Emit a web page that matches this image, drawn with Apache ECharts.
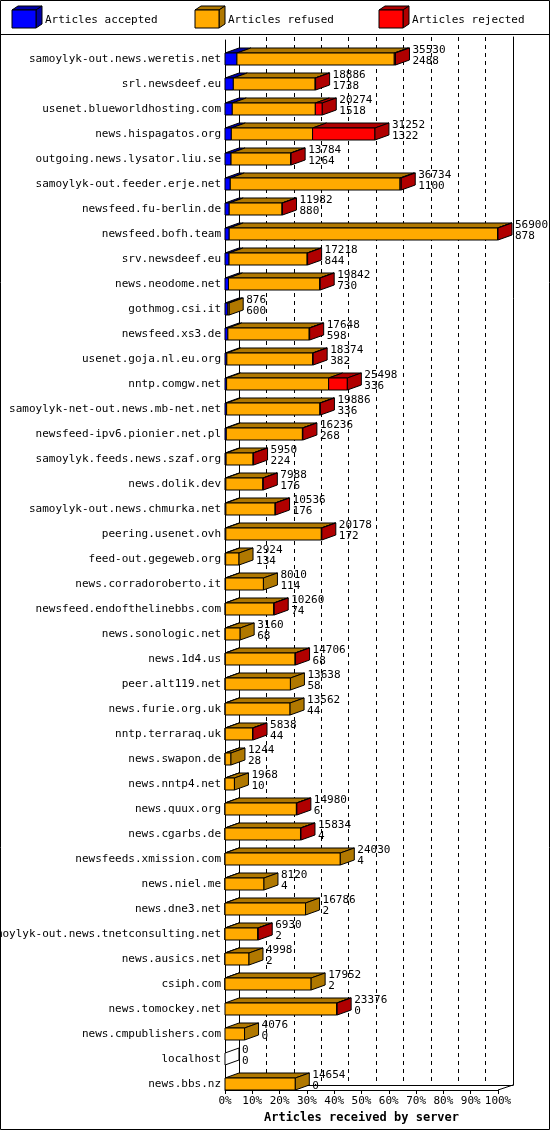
<!DOCTYPE html>
<html><head><meta charset="utf-8">
<script src="https://cdn.jsdelivr.net/npm/echarts@6/dist/echarts.min.js"></script>
<style>html,body{margin:0;padding:0;background:#fff}#c{width:550px;height:1130px}</style>
</head><body><div id="c"></div>
<script>
const categories = ["samoylyk-out.news.weretis.net","srl.newsdeef.eu","usenet.blueworldhosting.com","news.hispagatos.org","outgoing.news.lysator.liu.se","samoylyk-out.feeder.erje.net","newsfeed.fu-berlin.de","newsfeed.bofh.team","srv.newsdeef.eu","news.neodome.net","gothmog.csi.it","newsfeed.xs3.de","usenet.goja.nl.eu.org","nntp.comgw.net","samoylyk-net-out.news.mb-net.net","newsfeed-ipv6.pionier.net.pl","samoylyk.feeds.news.szaf.org","news.dolik.dev","samoylyk-out.news.chmurka.net","peering.usenet.ovh","feed-out.gegeweb.org","news.corradoroberto.it","newsfeed.endofthelinebbs.com","news.sonologic.net","news.1d4.us","peer.alt119.net","news.furie.org.uk","nntp.terraraq.uk","news.swapon.de","news.nntp4.net","news.quux.org","news.cgarbs.de","newsfeeds.xmission.com","news.niel.me","news.dne3.net","samoylyk-out.news.tnetconsulting.net","news.ausics.net","csiph.com","news.tomockey.net","news.cmpublishers.com","localhost","news.bbs.nz"];
const totals = [35530,18886,20274,31252,13784,36734,11982,56900,17218,19842,876,17648,18374,25498,19886,16236,5950,7988,10536,20178,2924,8010,10260,3160,14706,13638,13562,5838,1244,1968,14980,15834,24030,8120,16786,6930,4998,17952,23376,4076,0,14654];
const accepted = [2488,1738,1518,1322,1264,1100,880,878,844,730,600,598,382,336,336,268,224,176,176,172,134,114,74,68,68,58,44,44,28,10,6,4,4,4,2,2,2,2,0,0,0,0];
const rejected = [250,100,1450,13000,100,250,100,100,100,100,0,100,100,3900,100,100,100,100,100,100,0,0,100,0,100,0,0,100,0,0,100,100,0,0,0,100,0,0,100,0,0,0];
const xTicks = ["0%","10%","20%","30%","40%","50%","60%","70%","80%","90%","100%"];
const MAXV = 56900;

const DX = 14, DY = 5, H = 12;
const FONT = '11px "DejaVu Sans Mono", monospace';
const cols = [['#0000ff','#0000a8'],['#ffaa00','#b07800'],['#ff0000','#b00000']];

const data = categories.map((c,i)=>[i, accepted[i], totals[i]-accepted[i]-rejected[i], rejected[i], totals[i]]);

function renderItem(params, api){
  const i = api.value(0);
  const segs = [api.value(1), api.value(2), api.value(3)];
  const tot = api.value(4);
  const band = api.size([0,1])[1];
  const base = api.coord([0,i]);
  const yb = Math.round(base[1] + band/2), yt = yb - H;
  const children = [];
  const st = {stroke:'#000', lineWidth:1};
  let c = 0, lastCol = 1, xEnd = base[0];
  segs.forEach((v,k)=>{
    if (v <= 0) return;
    const x1 = api.coord([c,i])[0], x2 = api.coord([c+v,i])[0];
    c += v; lastCol = k; xEnd = x2;
    children.push({type:'polygon', shape:{points:[[x1,yt],[x1+DX,yt-DY],[x2+DX,yt-DY],[x2,yt]]}, style:Object.assign({fill:cols[k][1]},st)});
    children.push({type:'rect', shape:{x:x1,y:yt,width:x2-x1,height:H}, style:Object.assign({fill:cols[k][0]},st)});
  });
  let sideFill = tot === 0 ? '#fff' : (segs[2] > 0 ? cols[2][1] : cols[lastCol][1]);
  if (tot === 0) {
    children.push({type:'polygon', shape:{points:[[xEnd,yt],[xEnd+DX,yt-DY],[xEnd+DX,yb-DY],[xEnd,yb]]}, style:Object.assign({fill:'#fff'},st)});
  } else {
    children.push({type:'polygon', shape:{points:[[xEnd,yt],[xEnd+DX,yt-DY],[xEnd+DX,yb-DY],[xEnd,yb]]}, style:Object.assign({fill:sideFill},st)});
  }
  children.push({type:'text', style:{x:xEnd+DX+3, y:yt-8, text:tot+'\n'+api.value(1), font:FONT, fill:'#000', lineHeight:11, textVerticalAlign:'top'}});
  children.push({type:'text', style:{x:221, y:yt+6, text:categories[i], font:FONT, fill:'#000', textAlign:'right', textVerticalAlign:'middle'}});
  return {type:'group', children};
}

function legendBox(x, k, label){
  return [
    {type:'polygon', shape:{points:[[x,10],[x+6,6],[x+30,6],[x+24,10]]}, style:{fill:cols[k][1],stroke:'#000'}},
    {type:'polygon', shape:{points:[[x+24,10],[x+30,6],[x+30,24],[x+24,28]]}, style:{fill:cols[k][1],stroke:'#000'}},
    {type:'rect', shape:{x:x,y:10,width:24,height:18}, style:{fill:cols[k][0],stroke:'#000'}},
    {type:'text', style:{x:x+33, y:20, text:label, font:FONT, fill:'#000', textVerticalAlign:'middle'}}
  ];
}

const chart = echarts.init(document.getElementById('c'), null, {renderer:'canvas'});
chart.setOption({
  animation:false,
  backgroundColor:'#fff',
  grid:[
    {left:225, right:52, top:40, bottom:40},
    {left:239, right:37, top:37, bottom:45}
  ],
  xAxis:[
    {gridIndex:0, type:'value', min:0, max:MAXV, interval:MAXV/10,
     axisLine:{show:true,lineStyle:{color:'#000'}}, axisTick:{show:true,length:4,lineStyle:{color:'#000'}},
     splitLine:{show:false},
     axisLabel:{color:'#000', font:FONT, fontFamily:'DejaVu Sans Mono', fontSize:11, margin:6,
       formatter:(v)=>xTicks[Math.round(v/MAXV*10)]},
     name:'Articles received by server', nameLocation:'middle', nameGap:22,
     nameTextStyle:{color:'#000', fontFamily:'DejaVu Sans Mono', fontSize:12, fontWeight:'bold'}},
    {gridIndex:1, type:'value', min:0, max:MAXV, interval:MAXV/10,
     axisLine:{show:true,lineStyle:{color:'#000'}}, axisTick:{show:false}, axisLabel:{show:false},
     splitLine:{show:true,lineStyle:{color:'#000',type:[4,4]}}}
  ],
  yAxis:[
    {gridIndex:0, type:'category', data:categories, inverse:true,
     axisLine:{show:true,lineStyle:{color:'#000'}}, axisTick:{show:false}, axisLabel:{show:false}},
    {gridIndex:1, type:'category', data:categories, inverse:true, position:'left',
     axisLine:{show:true,lineStyle:{color:'#000'}}, axisTick:{show:false}, axisLabel:{show:false}},
    {gridIndex:1, type:'category', data:categories, inverse:true, position:'right',
     axisLine:{show:true,lineStyle:{color:'#000'}}, axisTick:{show:false}, axisLabel:{show:false}}
  ],
  series:[{type:'custom', xAxisIndex:0, yAxisIndex:0, renderItem, data, clip:false, z:5}],
  graphic:[
    {type:'rect', shape:{x:0.5,y:0.5,width:549,height:1129}, style:{fill:null,stroke:'#000'}},
    {type:'line', shape:{x1:0,y1:34.5,x2:550,y2:34.5}, style:{stroke:'#000'}},
    {type:'line', shape:{x1:498,y1:1090,x2:513,y2:1085}, style:{stroke:'#000'}},
    ...legendBox(12,0,'Articles accepted'),
    ...legendBox(195,1,'Articles refused'),
    ...legendBox(379,2,'Articles rejected')
  ]
});
</script></body></html>
